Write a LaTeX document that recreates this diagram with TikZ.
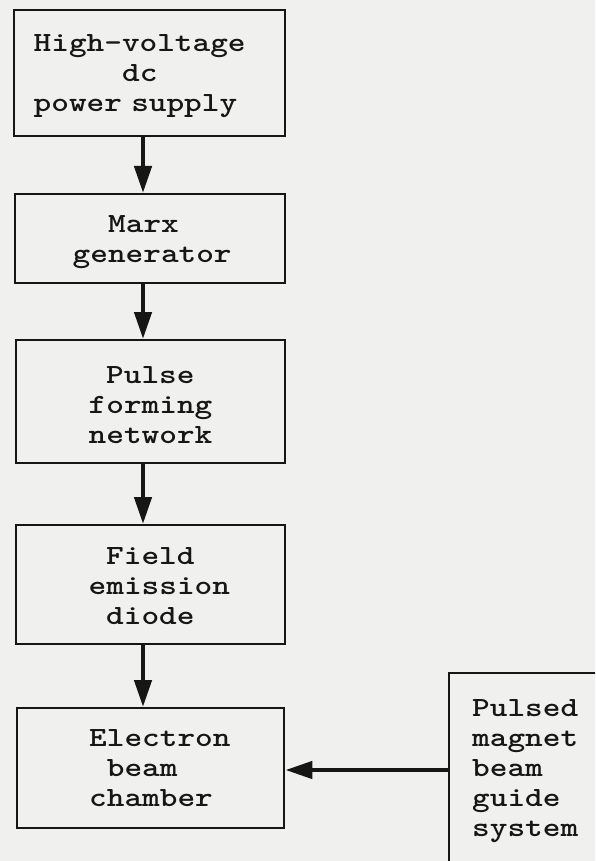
\documentclass[tikz,border=0pt]{standalone}
\usepackage{fontspec}
\newfontfamily\typew[FakeStretch=1.21]{lmmonolt10-bold.otf}
\usetikzlibrary{arrows.meta}
\definecolor{paper}{RGB}{240,240,238}
\definecolor{inkc}{RGB}{22,22,22}
\tikzset{
  blk/.style={draw=inkc, line width=2.4pt, anchor=north west, inner sep=0pt,
    align=left, font=\typew\fontsize{27.8}{30}\selectfont, text=inkc},
  arr/.style={draw=inkc, line width=4.5pt, -{Triangle[length=27pt,width=17pt]}},
}
\newcommand\ind[1]{\hspace*{#1pt}}
\begin{document}
\begin{tikzpicture}[x=1pt,y=-1pt]
\useasboundingbox (0,0) rectangle (595,861);
\fill[paper] (0,0) rectangle (595,861);
\clip (0,0) rectangle (595,861);
\node[blk, text width=271pt, text height=41pt, text depth=85pt] (b1) at (13,9)
  {\ind{19.5}High–voltage\\\ind{108}dc\\\ind{19.5}power supply};
\node[blk, text width=270pt, text height=38.5pt, text depth=50.5pt] (b2) at (14,193)
  {\ind{93}Marx\\\ind{57.5}generator};
\node[blk, text width=269pt, text height=43pt, text depth=80pt] (b3) at (15,339)
  {\ind{90}Pulse\\\ind{72.5}forming\\\ind{72.5}network};
\node[blk, text width=269pt, text height=39pt, text depth=80pt] (b4) at (15,524)
  {\ind{90}Field\\\ind{72.5}emission\\\ind{90}diode};
\node[blk, text width=267pt, text height=38pt, text depth=82pt] (b5) at (16,707)
  {\ind{72}Electron\\\ind{89.7}beam\\\ind{72}chamber};
\node[blk, text width=200pt, text height=43pt, text depth=190pt] (b6) at (448,672)
  {\ind{23}Pulsed\\\ind{23}magnet\\\ind{23}beam\\\ind{23}guide\\\ind{23}system};
\coordinate (ax) at (143,0);
\coordinate (ay) at (0,770);
\draw[arr] (b1.south -| ax) -- (b2.north -| ax);
\draw[arr] (b2.south -| ax) -- (b3.north -| ax);
\draw[arr] (b3.south -| ax) -- (b4.north -| ax);
\draw[arr] (b4.south -| ax) -- (b5.north -| ax);
\draw[arr] (b6.west |- ay) -- (b5.east |- ay);
\end{tikzpicture}
\end{document}
